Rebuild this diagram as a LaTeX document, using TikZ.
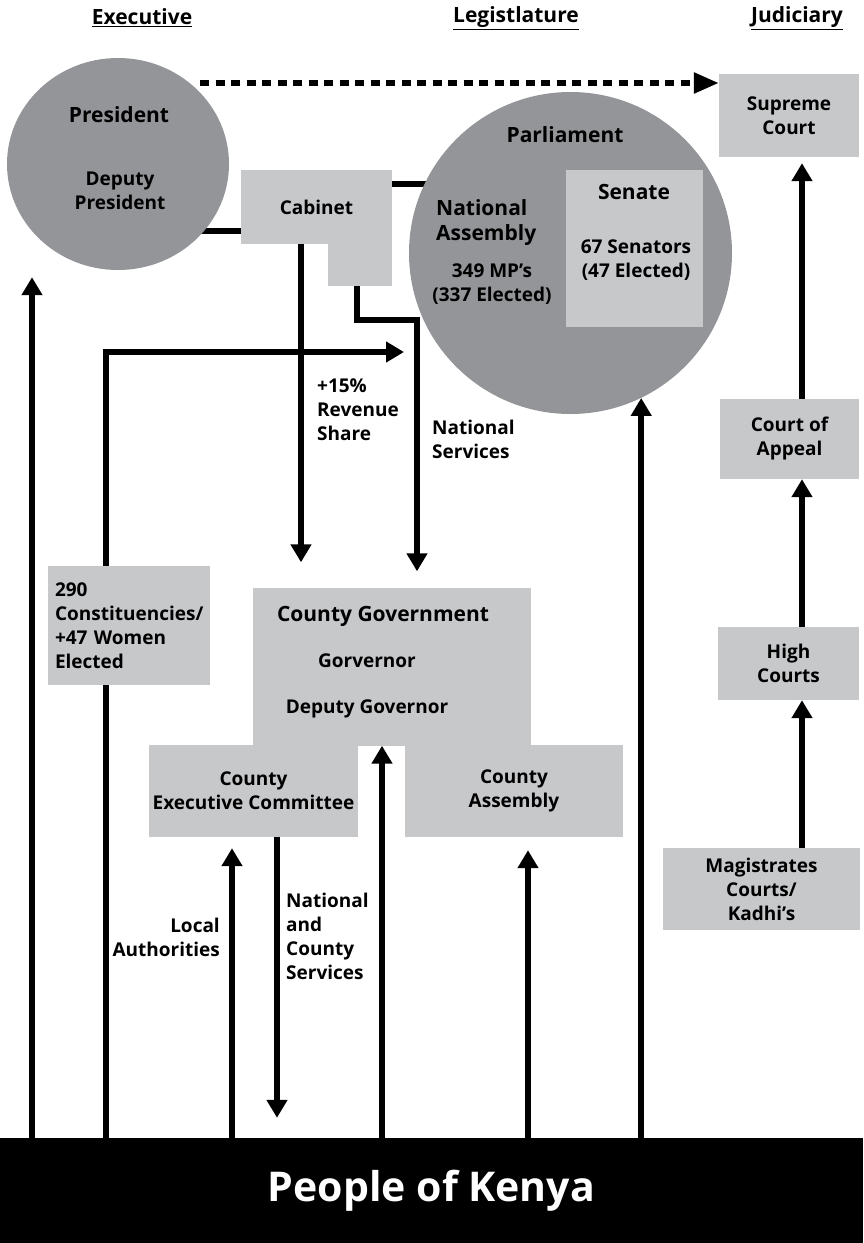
\documentclass[tikz,border=0pt]{standalone}
\usepackage{fontspec}
\setmainfont{Open Sans}
\usetikzlibrary{arrows.meta,positioning,shapes.geometric}

\definecolor{ringgray}{HTML}{939598}
\definecolor{boxgray}{HTML}{C7C8CA}

\pgfdeclarelayer{background}
\pgfsetlayers{background,main}

\tikzset{
  bigtext/.style={font=\bfseries\fontsize{21}{25}\selectfont, align=center, inner sep=0pt},
  smalltext/.style={font=\bfseries\fontsize{19}{24}\selectfont, align=center, inner sep=0pt},
  ring/.style={ellipse, fill=ringgray, inner sep=0pt},
  box/.style={fill=boxgray, inner sep=0pt, smalltext},
  link/.style={line width=6pt},
  flow/.style={line width=6pt, -{Triangle[width=20pt,length=18pt]}},
  dotflow/.style={line width=5.5pt, dash pattern=on 9pt off 6.5pt, -{Triangle[width=20pt,length=25pt]}}
}

\begin{document}
\begin{tikzpicture}[x=1pt,y=-1pt]
\useasboundingbox (0,0) rectangle (863,1243);

% column headings
\node[bigtext] (hexec) at (142,18) {\underline{Executive}};
\node[bigtext] (hlegis) at (516,18) {\underline{Legistlature}};
\node[bigtext] (hjudic) at (797,18) {\underline{Judiciary}};

% executive
\node[ring, minimum width=222pt, minimum height=212pt] (pres) at (118,164) {};
\node[bigtext] (prestitle) at (119,115) {President};
\node[smalltext] (deputy) at (120,191) {Deputy\\President};
\node[box, minimum width=151pt, minimum height=74pt] (cabinet) at (316.5,207) {Cabinet};
\node[box, minimum width=64pt, minimum height=43pt] (cabfoot) at (360,264.5) {};

% legislature
\node[ring, minimum width=323pt, minimum height=322pt] (parl) at (570.5,253) {};
\node[bigtext] (parltitle) at (565,135) {Parliament};
\node[bigtext, align=left, anchor=west] (nat) at (436,223) {National\\Assembly};
\node[smalltext] (mps) at (492,284) {349 MP's\\(337 Elected)};
\node[box, minimum width=137pt, minimum height=157pt] (senate) at (634.5,248.5) {};
\node[bigtext] (sentitle) at (634,192) {Senate};
\node[smalltext] (senators) at (636,260) {67 Senators\\(47 Elected)};

% judiciary
\node[box, minimum width=140pt, minimum height=83pt] (sup) at (789,115.5) {Supreme\\Court};
\node[box, minimum width=139pt, minimum height=80pt] (appeal) at (789.5,439) {Court of\\Appeal};
\node[box, minimum width=141pt, minimum height=73pt] (high) at (788.5,663.5) {High\\Courts};
\node[box, minimum width=197pt, minimum height=82pt] (mag) at (761.5,889) {Magistrates\\Courts/\\Kadhi's};

% counties
\node[box, text width=148pt, inner xsep=7pt, align=left, minimum height=119pt] (const) at (129,625.5) {290\\Constituencies/\\+47 Women\\Elected};
\node[box, minimum width=278pt, minimum height=158pt] (county) at (392,666.5) {};
\node[bigtext] (countytitle) at (383,616) {County Government};
\node[smalltext] (gov) at (367,661) {Gorvernor};
\node[smalltext] (depgov) at (367,709) {Deputy Governor};
\node[box, minimum width=209pt, minimum height=92pt] (cec) at (253.5,791) {County\\Executive Committee};
\node[box, minimum width=218pt, minimum height=92pt] (cassembly) at (514,791) {County\\Assembly};

% people
\node[fill=black, text=white, font=\bfseries\fontsize{41}{48}\selectfont, minimum width=863pt, minimum height=105pt, inner sep=0pt] (people) at (431.5,1190.5) {People of Kenya};

% flow labels
\node[smalltext, align=left, anchor=west] (revenue) at (317,410) {+15\%\\Revenue\\Share};
\node[smalltext, align=left, anchor=west] (natserv) at (432,439) {National\\Services};
\node[smalltext, align=right, anchor=east] (local) at (220,937) {Local\\Authorities};
\node[smalltext, align=left, anchor=west] (ncserv) at (286,936) {National\\and\\County\\Services};

% columns of the connectors
\coordinate (farx) at (32,0);
\coordinate (constx) at (106,0);
\coordinate (localx) at (232,0);
\coordinate (servx) at (277,0);
\coordinate (revx) at (301,0);
\coordinate (footx) at (357,0);
\coordinate (govx) at (382,0);
\coordinate (natx) at (417,0);
\coordinate (assx) at (528,0);
\coordinate (judx) at (802,0);
\coordinate (dotstart) at (200,83);
\coordinate (bendy) at (0,320);
\coordinate (crossy) at (0,352);

\begin{pgfonlayer}{background}
\draw[dotflow] (dotstart) -- (dotstart -| sup.west);
\draw[link] (pres.center |- 0,231) -- (cabinet.west |- 0,231);
\draw[link] (cabinet.east |- 0,184) -- (parl.center |- 0,184);
\draw[flow, shorten >=25pt] (cabinet.south -| revx) -- (county.north -| revx);
\draw[flow, shorten >=16pt] (cabfoot.south -| footx) -- (bendy -| footx) -- (bendy -| natx) -- (county.north -| natx);
\draw[flow] (const.north -| constx) -- (crossy -| constx) -- (crossy -| 404,0);
\draw[link] (people.north -| constx) -- (const.south -| constx);
\draw[flow, shorten >=7pt] (people.north -| farx) -- (pres.south -| farx);
\draw[flow, shorten >=11pt] (people.north -| localx) -- (cec.south -| localx);
\draw[flow, shorten >=20pt] (cec.south -| servx) -- (people.north -| servx);
\draw[flow] (people.north -| govx) -- (county.south -| govx);
\draw[flow, shorten >=13pt] (people.north -| assx) -- (cassembly.south -| assx);
\draw[flow] (people.north -| parl.-64) -- (parl.-64);
\draw[flow] (mag.north -| judx) -- (high.south -| judx);
\draw[flow] (high.north -| judx) -- (appeal.south -| judx);
\draw[flow, shorten >=6pt] (appeal.north -| judx) -- (sup.south -| judx);
\end{pgfonlayer}
\end{tikzpicture}
\end{document}
